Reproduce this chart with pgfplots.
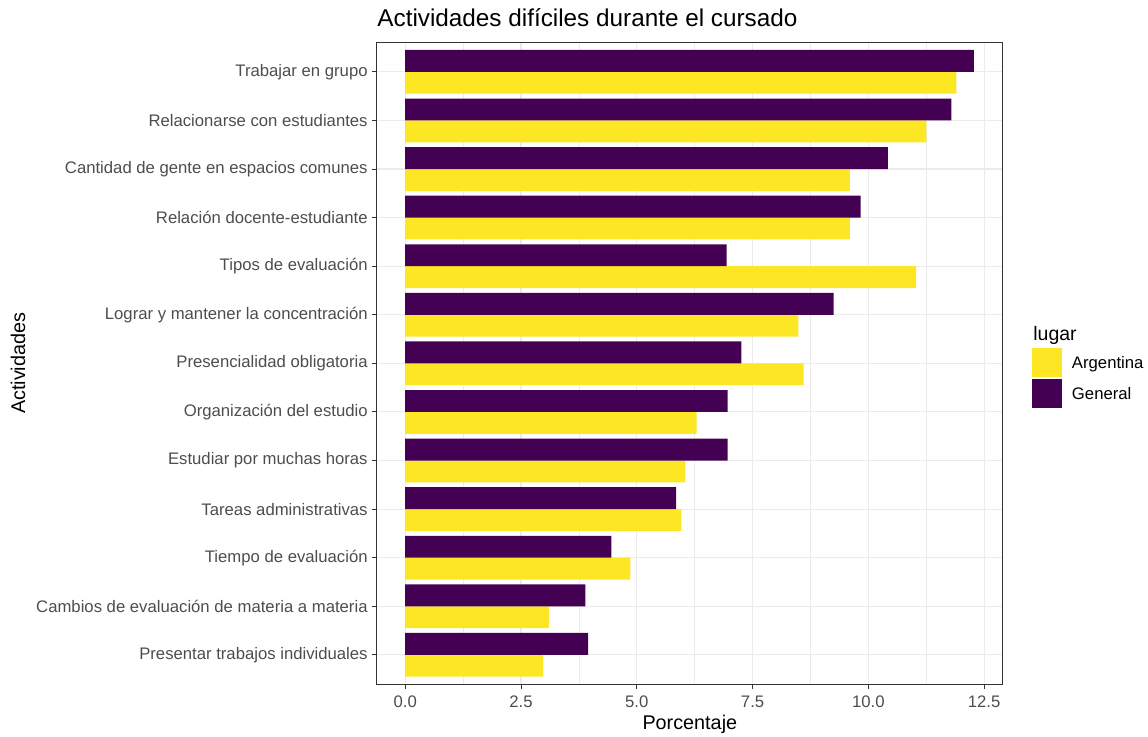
\documentclass[border=0pt]{standalone}
\usepackage{pgfplots}
\pgfplotsset{compat=1.18}
\usepackage{pgfplotstable}
\usepackage{fontspec}
\setmainfont{Liberation Sans}
\definecolor{genpurple}{HTML}{440154}
\definecolor{argyellow}{HTML}{FDE725}
\definecolor{gridgray}{HTML}{EBEBEB}
\definecolor{tickgray}{HTML}{4D4D4D}
\definecolor{framegray}{HTML}{333333}
\pgfplotstableread{
y gen arg
1 3.95 2.98
2 3.89 3.10
3 4.45 4.86
4 5.85 5.96
5 6.96 6.05
6 6.96 6.29
7 7.26 8.60
8 9.25 8.49
9 6.94 11.03
10 9.83 9.60
11 10.42 9.60
12 11.79 11.25
13 12.28 11.90
}\datatab
\begin{document}
\begin{tikzpicture}
\path[use as bounding box] (-188.5pt,-26pt) rectangle (385.5pt,342pt);
\begin{axis}[
  at={(0pt,0pt)}, anchor=south west,
  scale only axis,
  width=312.85pt, height=320.65pt,
  xmin=-0.61, xmax=12.90,
  ymin=0.4, ymax=13.6,
  xtick={0,2.5,5,7.5,10,12.5},
  minor xtick={1.25,3.75,6.25,8.75,11.25},
  ytick={1,...,13},
  yticklabels={Presentar trabajos individuales,Cambios de evaluación de materia a materia,Tiempo de evaluación,Tareas administrativas,Estudiar por muchas horas,Organización del estudio,Presencialidad obligatoria,Lograr y mantener la concentración,Tipos de evaluación,Relación docente-estudiante,Cantidad de gente en espacios comunes,Relacionarse con estudiantes,Trabajar en grupo},
  xmajorgrids, ymajorgrids, xminorgrids,
  major grid style={draw=gridgray, line width=0.55pt},
  minor grid style={draw=gridgray, line width=0.3pt},
  axis line style={draw=framegray, line width=0.5pt},
  tick align=outside,
  major tick length=2.5pt,
  minor tick length=0pt,
  tick style={draw=framegray, line width=0.5pt},
  xtick pos=bottom, ytick pos=left,
  /pgf/number format/assume math mode=true,
  xticklabel style={/pgf/number format/fixed, /pgf/number format/fixed zerofill, /pgf/number format/precision=1, font=\fontsize{8.35}{10}\selectfont, text=tickgray},
  yticklabel style={font=\fontsize{8.35}{10}\selectfont, text=tickgray, xshift=1.35pt},
  xlabel={Porcentaje},
  ylabel={Actividades},
  every axis x label/.style={at={(rel axis cs:0.5,-0.0717)}, anchor=base, font=\fontsize{9.9}{12}\selectfont},
  every axis y label/.style={at={(rel axis cs:-0.5738,0.5)}, anchor=center, rotate=90, font=\fontsize{9.9}{12}\selectfont},
  xbar, bar width=0.45,
  legend style={at={(rel axis cs:1.0468,0.5239)}, anchor=north west, draw=none, fill=none, inner sep=0pt, outer sep=0pt, row sep=0.75pt, cells={anchor=base west}, nodes={inner sep=0pt, outer sep=0pt}, font=\fontsize{8.35}{10}\selectfont},
  clip=false,
]
\addplot[fill=argyellow, draw=none, bar shift=-0.225,
  legend image code/.code={\fill[argyellow] (0pt,-4.25pt) rectangle (15pt,10.25pt); \path (20pt,0pt);}]
  table[x=arg, y=y] {\datatab};
\addlegendentry{Argentina}
\addplot[fill=genpurple, draw=none, bar shift=0.225,
  legend image code/.code={\fill[genpurple] (0pt,-4.25pt) rectangle (15pt,10.25pt); \path (20pt,0pt);}]
  table[x=gen, y=y] {\datatab};
\addlegendentry{General}
\node[anchor=base west, font=\fontsize{12.15}{14}\selectfont, inner sep=0pt] at (rel axis cs:0,1.0245) {Actividades difíciles durante el cursado};
\node[anchor=base west, font=\fontsize{9.75}{12}\selectfont, inner sep=0pt] at (rel axis cs:1.0484,0.5364) {lugar};
\end{axis}
\end{tikzpicture}
\end{document}
